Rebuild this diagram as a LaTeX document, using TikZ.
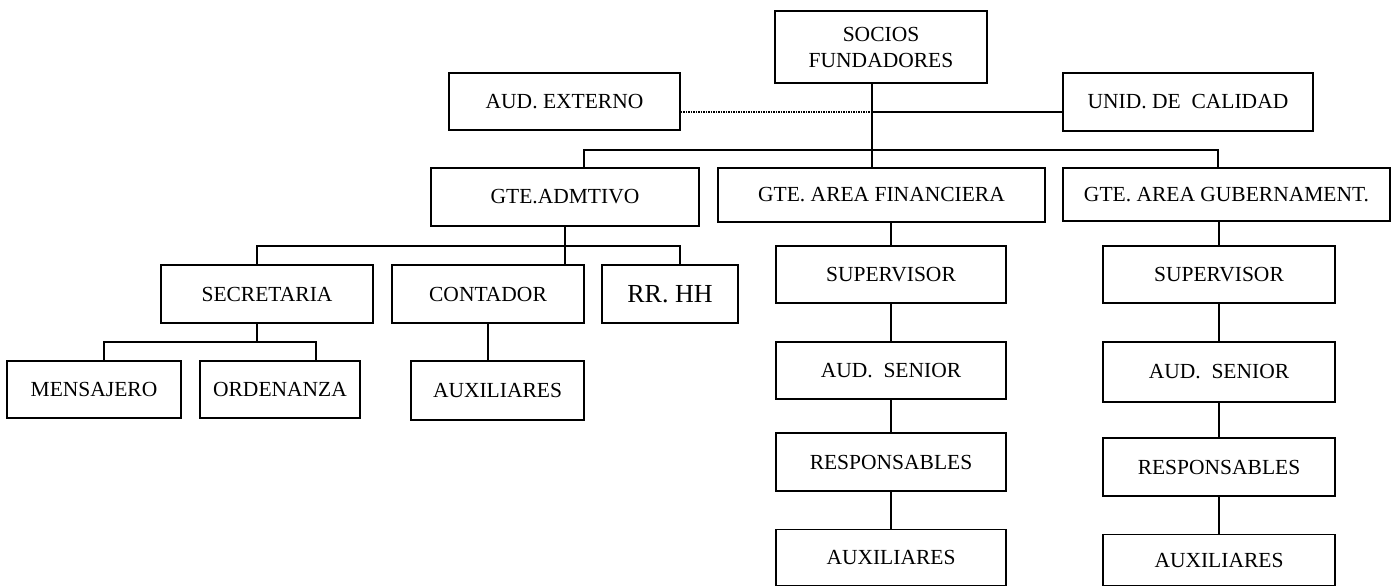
\documentclass[tikz,border=0pt]{standalone}
\usepackage{fontspec}
\setmainfont{Liberation Serif}
\begin{document}
\begin{tikzpicture}[x=1pt,y=-1pt,
  bx/.style={draw=black, line width=1.9pt, inner sep=0pt, align=center,
    font=\fontsize{21.5}{26}\selectfont},
  ln/.style={draw=black, line width=1.8pt},
  dl/.style={draw=black, line width=1.4pt, dash pattern=on 1.2pt off 1.3pt}]
\useasboundingbox (0,0) rectangle (1397,587);
% boxes
\node[bx, minimum width=212pt, minimum height=72pt] (socios) at (881,47) {SOCIOS\\FUNDADORES};
\node[bx, minimum width=231pt, minimum height=57pt] (audext) at (564.5,101.5) {AUD. EXTERNO};
\node[bx, minimum width=250pt, minimum height=58pt] (unid) at (1188,102) {UNID. DE\ \ CALIDAD};
\node[bx, minimum width=268pt, minimum height=58pt] (admtivo) at (565,197) {GTE.ADMTIVO};
\node[bx, minimum width=327pt, minimum height=54pt] (fin) at (881.5,195) {GTE. AREA FINANCIERA};
\node[bx, minimum width=327pt, minimum height=53pt] (gub) at (1226.5,194.5) {GTE. AREA GUBERNAMENT.};
\node[bx, minimum width=212pt, minimum height=58pt] (secretaria) at (267,294) {SECRETARIA};
\node[bx, minimum width=192pt, minimum height=58pt] (contador) at (488,294) {CONTADOR};
\node[bx, minimum width=136pt, minimum height=58pt, font=\fontsize{26}{31}\selectfont] (rrhh) at (670,294) {RR. HH};
\node[bx, minimum width=174pt, minimum height=57pt] (mensajero) at (94,389.5) {MENSAJERO};
\node[bx, minimum width=160pt, minimum height=57pt] (ordenanza) at (280,389.5) {ORDENANZA};
\node[bx, minimum width=173pt, minimum height=59pt] (auxa) at (497.5,390.5) {AUXILIARES};
\node[bx, minimum width=230pt, minimum height=57pt] (fsup) at (891,274.5) {SUPERVISOR};
\node[bx, minimum width=230pt, minimum height=57pt] (faud) at (891,370.5) {AUD.\ \ SENIOR};
\node[bx, minimum width=230pt, minimum height=58pt] (fresp) at (891,462) {RESPONSABLES};
\node[bx, minimum width=230pt, minimum height=56pt] (faux) at (891,557.5) {AUXILIARES};
\node[bx, minimum width=232pt, minimum height=57pt] (gsup) at (1219,274.5) {SUPERVISOR};
\node[bx, minimum width=232pt, minimum height=60pt] (gaud) at (1219,372) {AUD.\ \ SENIOR};
\node[bx, minimum width=232pt, minimum height=58pt] (gresp) at (1219,467) {RESPONSABLES};
\node[bx, minimum width=232pt, minimum height=51pt] (gaux) at (1219,560) {AUXILIARES};
% junction coordinates
\coordinate (j1) at (872,112);
\coordinate (busL) at (584,150);
\coordinate (busR) at (1218,150);
\coordinate (s1) at (565,246);
\coordinate (s1L) at (257,246);
\coordinate (s1R) at (680,246);
\coordinate (s2M) at (257,342);
\coordinate (s2L) at (104,342);
\coordinate (s2R) at (316,342);
% connectors
\draw[ln] (socios.south -| j1) -- (fin.north -| j1);
\draw[dl] (audext.east |- j1) -- (j1);
\draw[ln] (j1) -- (unid.west |- j1);
\draw[ln] (admtivo.north -| busL) -- (busL) -- (busR) -- (gub.north -| busR);
\draw[ln] (admtivo.south -| s1) -- (contador.north -| s1);
\draw[ln] (secretaria.north -| s1L) -- (s1L) -- (s1R) -- (rrhh.north -| s1R);
\draw[ln] (secretaria.south -| s2M) -- (s2M);
\draw[ln] (mensajero.north -| s2L) -- (s2L) -- (s2R) -- (ordenanza.north -| s2R);
\draw[ln] (contador.south) -- (auxa.north -| contador.south);
\draw[ln] (fin.south -| fsup.north) -- (fsup.north);
\draw[ln] (fsup.south) -- (faud.north);
\draw[ln] (faud.south) -- (fresp.north);
\draw[ln] (fresp.south) -- (faux.north);
\draw[ln] (gub.south -| gsup.north) -- (gsup.north);
\draw[ln] (gsup.south) -- (gaud.north);
\draw[ln] (gaud.south) -- (gresp.north);
\draw[ln] (gresp.south) -- (gaux.north);
\end{tikzpicture}
\end{document}
